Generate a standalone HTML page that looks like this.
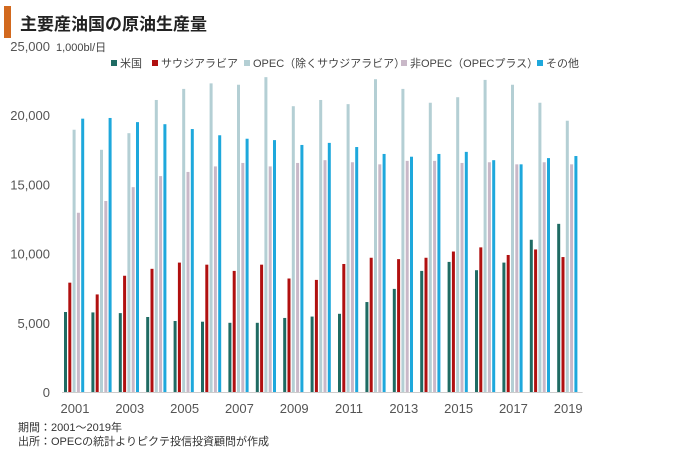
<!DOCTYPE html>
<html><head><meta charset="utf-8"><style>
body{margin:0;background:#fff;width:680px;height:454px;overflow:hidden;font-family:"Liberation Sans","Noto Sans CJK JP",sans-serif;}
svg text{font-family:"Liberation Sans","Noto Sans CJK JP",sans-serif;}
</style></head><body>
<svg width="680" height="454">
<rect x="4" y="6" width="7" height="32" fill="#d2691e"/>
<text x="20" y="30" font-size="17" font-weight="bold" fill="#222">主要産油国の原油生産量</text>
<text x="56" y="51" font-size="11" fill="#444">1,000bl/日</text>
<g id="legend"></g>
<g id="yaxis"></g>
<g id="bars"></g>
<g id="xaxis"></g>
<text x="18" y="431" font-size="11" fill="#333">期間：2001～2019年</text>
<text x="18" y="445" font-size="11" fill="#333">出所：OPECの統計よりピクテ投信投資顧問が作成</text>
</svg>
<script>
const years=[2001,2002,2003,2004,2005,2006,2007,2008,2009,2010,2011,2012,2013,2014,2015,2016,2017,2018,2019];
const us=[5780,5750,5700,5420,5130,5080,5000,5000,5350,5450,5650,6500,7450,8750,9400,8800,9350,11000,12150];
const saudi=[7900,7050,8400,8900,9350,9200,8750,9200,8200,8100,9250,9700,9600,9700,10150,10450,9900,10300,9750];
const opecEx=[18950,17500,18700,21100,21900,22300,22200,22750,20650,21100,20800,22600,21900,20900,21300,22550,22200,20900,19600];
const nonOpec=[12950,13800,14800,15600,15900,16300,16550,16300,16550,16750,16600,16450,16700,16700,16550,16600,16450,16600,16450];
const other=[19750,19800,19500,19350,19000,18550,18300,18200,17850,18000,17700,17200,17000,17200,17350,16750,16450,16900,17050];
const seriesNames=["米国","サウジアラビア","OPEC（除くサウジアラビア）","非OPEC（OPECプラス）","その他"];
const yTicks=[0,5000,10000,15000,20000,25000];
const colors=["#1f6b63","#b01010","#b4cfd4","#c9b8c8","#1ea8dc"];
const series=[us,saudi,opecEx,nonOpec,other];
const NS="http://www.w3.org/2000/svg";
const y0=392,yTop=46,yMax=25000,x0=62,step=27.4;
const Y=v=>y0-(v/yMax)*(y0-yTop);
const X=i=>x0+i*step;
function mk(t,a){const e=document.createElementNS(NS,t);for(const k in a)e.setAttribute(k,a[k]);return e;}
const yg=document.getElementById('yaxis');
yTicks.forEach(t=>{const e=mk('text',{x:50,y:Y(t)+5,'text-anchor':'end','font-size':13,fill:'#555'});e.textContent=t.toLocaleString('en-US');


yg.appendChild(e);});
const xg=document.getElementById('xaxis');
const ax=mk('line',{x1:x0,x2:X(years.length),y1:y0+0.5,y2:y0+0.5,stroke:'#ccc'});


xg.appendChild(ax);
const bg=document.getElementById('bars');
years.forEach((yr,i)=>{
 series.forEach((s,j)=>{
  const r=mk('rect',{x:X(i)+2+j*4.3,y:Y(s[i]),width:3,height:y0-Y(s[i]),fill:colors[j]});
  
  
  bg.appendChild(r);
 });
 if(i%2===0){const t=mk('text',{x:X(i)+13,y:413,'text-anchor':'middle','font-size':13,fill:'#555'});t.textContent=yr;
 
 
 xg.appendChild(t);}
});
const lg=document.getElementById('legend');
const lx=[111,152,244,401,537];
seriesNames.forEach((n,j)=>{
 const r=mk('rect',{x:lx[j],y:60,width:6,height:6,fill:colors[j]});
 
 
 lg.appendChild(r);
 const t=mk('text',{x:lx[j]+9,y:67,'font-size':11,fill:'#444'});t.textContent=n;
 
 
 lg.appendChild(t);
});
</script>
</body></html>
